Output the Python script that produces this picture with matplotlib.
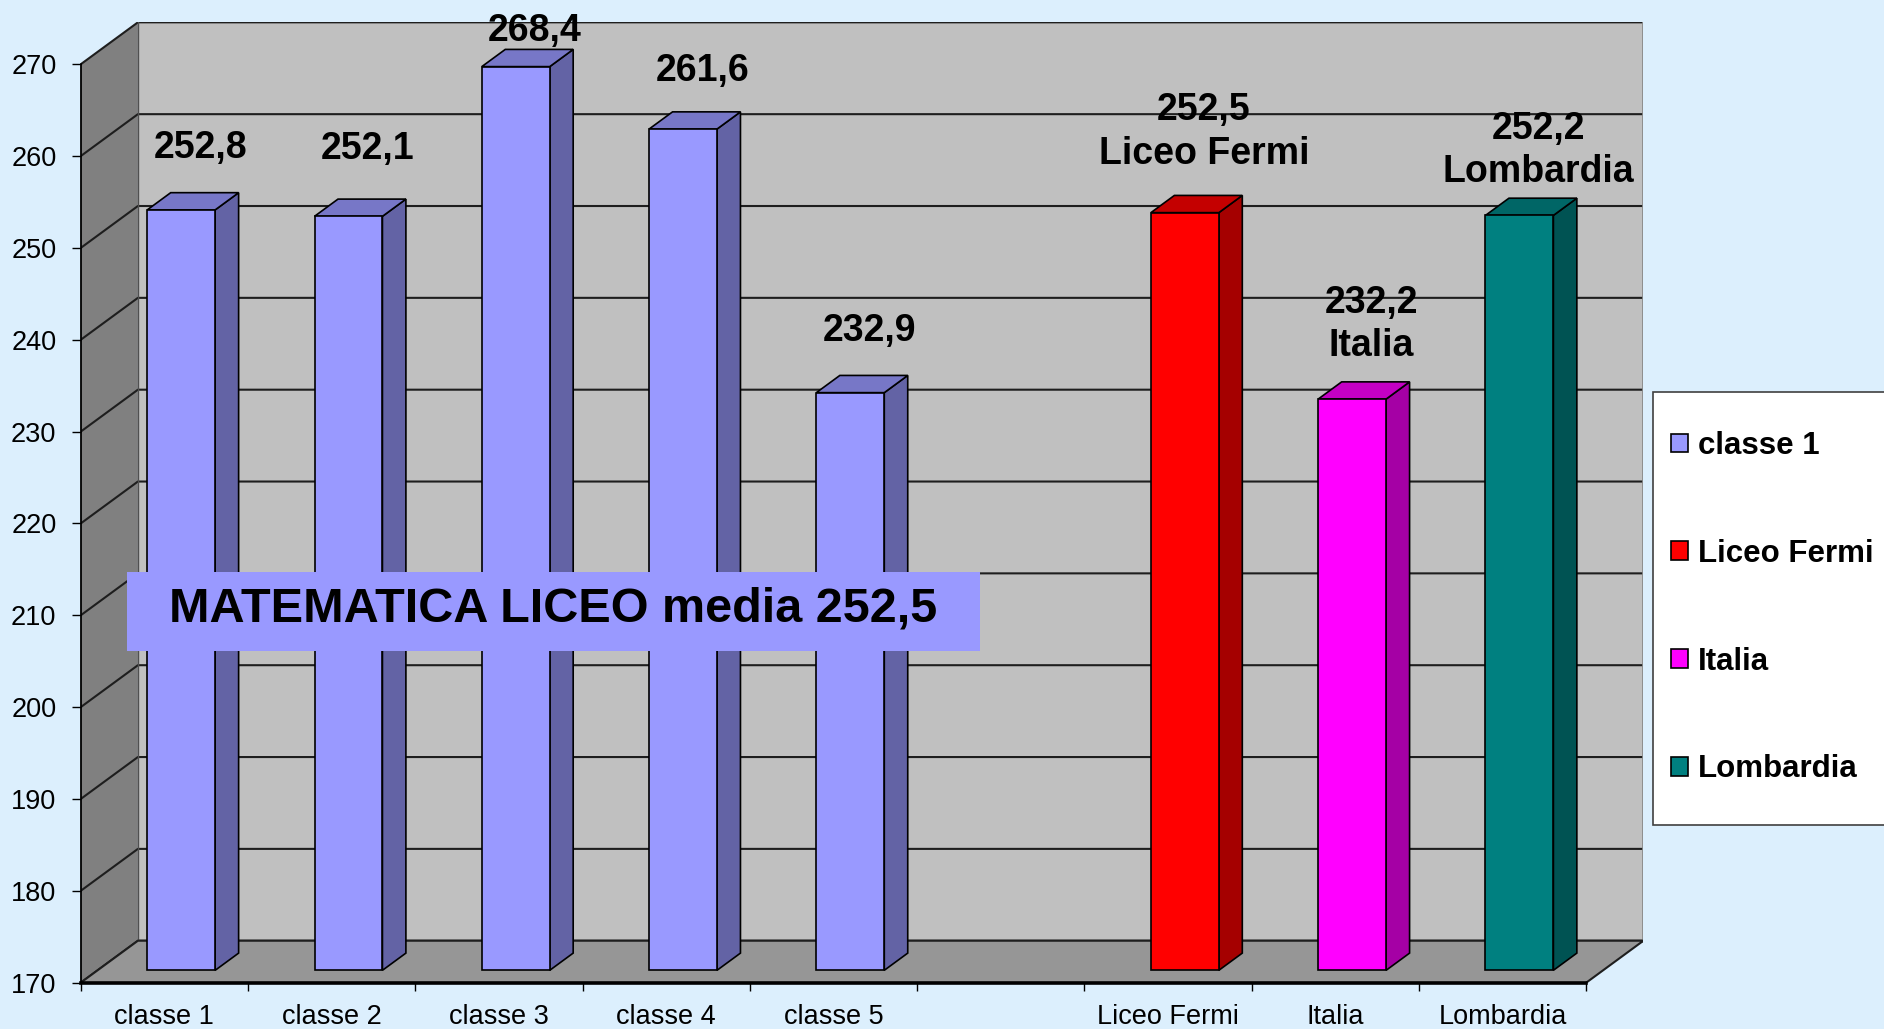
import numpy as np
import matplotlib
matplotlib.use("Agg")
import matplotlib.pyplot as plt
from matplotlib.patches import Polygon, Rectangle, Patch

# ---------------- data ----------------
categories = ['classe 1', 'classe 2', 'classe 3', 'classe 4', 'classe 5', '',
              'Liceo Fermi', 'Italia', 'Lombardia']
values = [252.8, 252.1, 268.4, 261.6, 232.9, np.nan, 252.5, 232.2, 252.2]
value_labels = ['252,8', '252,1', '268,4', '261,6', '232,9', '', '252,5', '232,2', '252,2']
name_labels = ['', '', '', '', '', '', 'Liceo Fermi', 'Italia', 'Lombardia']
legend_labels = ['classe 1', 'Liceo Fermi', 'Italia', 'Lombardia']
y_ticks = list(range(170, 271, 10))
box_text = 'MATEMATICA LICEO media 252,5'

# ---------------- style ----------------
plt.rcParams['font.family'] = ['Liberation Sans', 'DejaVu Sans']
BG = '#DCEFFD'
front_c = ['#9999FF'] * 5 + [None] + ['#FF0000', '#FF00FF', '#008080']
side_c = ['#6363A5'] * 5 + [None] + ['#A50000', '#A500A5', '#005353']
top_c = ['#7777C7'] * 5 + [None] + ['#C40000', '#C400C4', '#006666']
legend_colors = ['#9999FF', '#FF0000', '#FF00FF', '#008080']
label_dy = [8.1, 8.67, 5.2, 7.7, 8.1, 0, 7.77, 7.12, 6.1]   # label offsets (value units)
line_gap = 4.7
LABEL_FS = 27
LABEL_DX = 0.215

YMIN, YMAX = 170, 270
DX, DY = 0.342, 4.57          # depth offset of the 3-D box
HW = 0.203                    # half bar width
F0, F1 = 0.295, 0.705         # bar depth span (fraction of depth)
n = len(categories)

fig = plt.figure(figsize=(18.84, 10.29), dpi=100)
fig.patch.set_facecolor(BG)
ax = fig.add_axes([0.04283, 0.0450, 0.8723 - 0.04283, 0.9783 - 0.0450])
ax.set_xlim(-0.5, n - 0.5 + DX)
ax.set_ylim(YMIN, YMAX + DY)
ax.patch.set_visible(False)

x0, x1 = -0.5, n - 0.5
# walls
ax.add_patch(Polygon([(x0 + DX, YMIN + DY), (x1 + DX, YMIN + DY), (x1 + DX, YMAX + DY),
                      (x0 + DX, YMAX + DY)], closed=True, fc='#C0C0C0', ec='none', zorder=0))
ax.add_patch(Polygon([(x0, YMIN), (x0 + DX, YMIN + DY), (x0 + DX, YMAX + DY), (x0, YMAX)],
                     closed=True, fc='#808080', ec='none', zorder=0))
# gridlines
for t in y_ticks:
    ax.plot([x0, x0 + DX, x1 + DX], [t, t + DY, t + DY], color='#1E1E1E', lw=1.5,
            zorder=1, solid_capstyle='butt')
ax.plot([x1 + DX, x1 + DX], [YMIN + DY, YMAX + DY], color='#8A8A8A', lw=2, zorder=1)
ax.plot([x0 + DX, x0 + DX], [YMIN + DY, YMAX + DY], color='#505050', lw=1, zorder=1)
# floor
ax.add_patch(Polygon([(x0, YMIN), (x1, YMIN), (x1 + DX, YMIN + DY), (x0 + DX, YMIN + DY)],
                     closed=True, fc='#969696', ec='none', zorder=1.5))
ax.plot([x0, x0 + DX, x1 + DX, x1], [YMIN, YMIN + DY, YMIN + DY, YMIN], color='#1E1E1E',
        lw=1.5, zorder=1.6)

# bars
for i, v in enumerate(values):
    if np.isnan(v):
        continue
    xl, xr = i - HW, i + HW
    b0, b1 = YMIN, v
    front = [(xl + F0 * DX, b0 + F0 * DY), (xr + F0 * DX, b0 + F0 * DY),
             (xr + F0 * DX, b1 + F0 * DY), (xl + F0 * DX, b1 + F0 * DY)]
    side = [(xr + F0 * DX, b0 + F0 * DY), (xr + F1 * DX, b0 + F1 * DY),
            (xr + F1 * DX, b1 + F1 * DY), (xr + F0 * DX, b1 + F0 * DY)]
    top = [(xl + F0 * DX, b1 + F0 * DY), (xr + F0 * DX, b1 + F0 * DY),
           (xr + F1 * DX, b1 + F1 * DY), (xl + F1 * DX, b1 + F1 * DY)]
    for pts, c in ((side, side_c[i]), (top, top_c[i]), (front, front_c[i])):
        ax.add_patch(Polygon(pts, closed=True, fc=c, ec='black', lw=1.2, zorder=3,
                             joinstyle='miter'))
    # labels
    ly = v + label_dy[i]
    if name_labels[i]:
        ax.text(i + LABEL_DX, ly, name_labels[i], ha='center', va='center',
                fontsize=LABEL_FS, fontweight='bold', color='black', zorder=5)
        ax.text(i + LABEL_DX, ly + line_gap, value_labels[i], ha='center', va='center',
                fontsize=LABEL_FS, fontweight='bold', color='black', zorder=5)
    else:
        ax.text(i + LABEL_DX, ly, value_labels[i], ha='center', va='center',
                fontsize=LABEL_FS, fontweight='bold', color='black', zorder=5)

# axes / ticks
for s in ('top', 'right'):
    ax.spines[s].set_visible(False)
ax.spines['left'].set_bounds(YMIN, YMAX)
ax.spines['left'].set_linewidth(1.3)
ax.spines['bottom'].set_bounds(x0, x1)
ax.spines['bottom'].set_linewidth(2.6)
ax.spines['left'].set_zorder(2)
ax.spines['bottom'].set_zorder(2)
ax.set_yticks(y_ticks)
ax.set_yticklabels([str(t) for t in y_ticks])
ax.tick_params(axis='y', length=6.5, width=1, pad=11, labelsize=19.5, colors='black')
ax.set_xticks(np.arange(-0.5, n, 1.0))
ax.set_xticklabels([''] * (n + 1))
ax.set_xticks(np.arange(n), minor=True)
ax.set_xticklabels(categories, minor=True)
ax.tick_params(axis='x', which='major', length=6, width=1, colors='black')
ax.tick_params(axis='x', which='minor', length=0, pad=15, labelsize=19.5, colors='black')

# text box
fig.patches.append(Rectangle((127 / 1884, 1 - 651 / 1029), (980 - 127) / 1884, 79 / 1029,
                             transform=fig.transFigure, fc='#9999FF', ec='none', zorder=6))
fig.text(553 / 1884, 1 - 621.7 / 1029, box_text, ha='center', va='baseline', fontsize=35,
         fontweight='bold', color='black', zorder=7)

# legend
fig.patches.append(Rectangle((1653.3 / 1884, 1 - 825 / 1029), 0.3, 433 / 1029,
                             transform=fig.transFigure, fc='white', ec='#404040', lw=1.2,
                             zorder=4))
handles = [Patch(fc=c, ec='black', lw=1.2) for c in legend_colors]
leg = fig.legend(handles, legend_labels, loc='upper left',
                 bbox_to_anchor=(1671 / 1884, 1 - 431 / 1029), frameon=False,
                 borderpad=0, borderaxespad=0, handlelength=0.55, handleheight=0.55,
                 handletextpad=0.3, labelspacing=2.49,
                 prop={'family': 'Liberation Sans', 'weight': 'bold', 'size': 22.5})
leg.set_zorder(8)

fig.savefig('out.png', dpi=100, facecolor=BG)
